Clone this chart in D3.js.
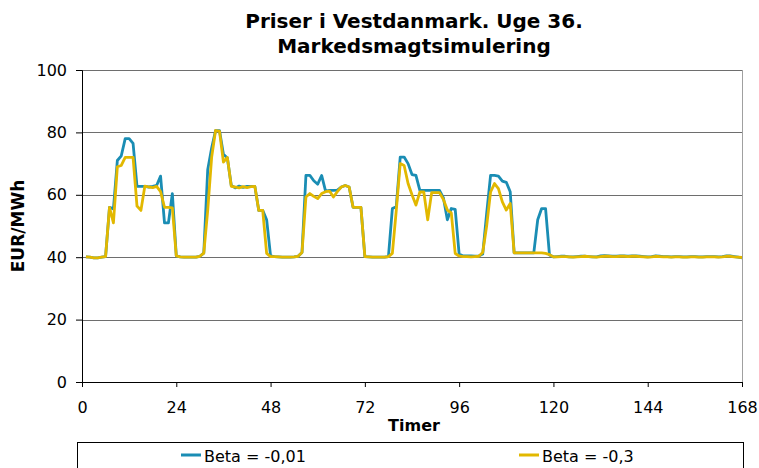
<!DOCTYPE html>
<html>
<head>
<meta charset="utf-8">
<script src="https://cdn.jsdelivr.net/npm/d3@7"></script>
<style>
	body { margin: 0; background: #fff; }
	text { font-family: 'DejaVu Sans', Verdana, sans-serif; fill: #000; }
</style>
</head>
<body>
<div class="canvas"></div>
<script>
// data - pris pr. time (EUR/MWh), time 1..168
const xTicks = [0, 24, 48, 72, 96, 120, 144, 168];
const yTicks = [0, 20, 40, 60, 80, 100];
const seriesNames = ['Beta = -0,01', 'Beta = -0,3'];
const seriesColours = ['#1a8db4', '#e2b800'];

const betaLow = [
	40.1, 40.0, 39.8, 39.8, 40.0, 40.2, 56, 55.5, 71, 72.5, 78, 78, 76.5, 62.7, 62.7, 62.7, 62.5, 62.7, 63, 66, 51, 51, 60.4, 40.4,
	40.1, 40.0, 40.0, 40.0, 40.0, 40.3, 41.3, 68, 75, 80.6, 80.6, 73, 71.8, 63, 62.2, 62.8, 62.4, 62.7, 62.7, 62.7, 55, 55, 52, 40.4,
	40.2, 40.1, 40.0, 40.0, 40.0, 40.1, 40.3, 41.5, 66.2, 66.2, 64.5, 63.4, 66.2, 61.2, 61.4, 61.4, 61.5, 62.5, 63, 62.5, 56, 56, 56, 40.2,
	40.1, 40.0, 40.0, 40.0, 40.0, 40.2, 55.6, 56.2, 72.1, 72.1, 70, 66.5, 66.2, 61.4, 61.4, 61.4, 61.4, 61.4, 61.4, 59, 52, 55.6, 55.3, 41,
	40.4, 40.4, 40.4, 40.3, 40.4, 41, 54, 66.2, 66.2, 66, 64.4, 64, 61, 41.4, 41.4, 41.4, 41.4, 41.4, 41.4, 52, 55.6, 55.6, 40.7, 40.1,
	40.2, 40.3, 40.3, 40.1, 40.1, 40.2, 40.3, 40.3, 40.2, 40.1, 40.1, 40.4, 40.5, 40.4, 40.3, 40.3, 40.4, 40.4, 40.3, 40.4, 40.4, 40.3, 40.2, 40.1,
	40.2, 40.4, 40.3, 40.2, 40.2, 40.1, 40.2, 40.2, 40.1, 40.1, 40.2, 40.2, 40.1, 40.1, 40.2, 40.2, 40.2, 40.1, 40.2, 40.4, 40.4, 40.2, 40.0, 39.8
];

const betaHigh = [
	40.1, 40.0, 39.8, 39.8, 40.0, 40.2, 56, 51, 69, 69.4, 72, 72, 72, 56.4, 55, 62.8, 62.5, 62.3, 62.7, 61, 56, 56, 55.8, 40.4,
	40.1, 40.0, 40.0, 40.0, 40.0, 40.3, 41.3, 55, 72, 80.6, 80.4, 70.5, 72, 62.7, 62.5, 62.2, 62.6, 62.3, 62.6, 62.7, 55, 55, 41.2, 40.2,
	40.2, 40.1, 40.0, 40.0, 40.0, 40.1, 40.3, 41.5, 59.3, 60.4, 59.5, 58.8, 60.4, 61, 61.2, 59.3, 61, 62.5, 63, 62.5, 56, 56, 56, 40.2,
	40.1, 40.0, 40.0, 40.0, 40.0, 40.2, 41.2, 55, 70, 69.4, 63.6, 60, 56.7, 60.9, 60.9, 52, 60.7, 60.7, 60.7, 58.5, 55.1, 54.2, 41.2, 40.4,
	40.2, 40.2, 40.1, 40.2, 40.3, 41.5, 50, 60.9, 63.6, 62, 57.7, 55.1, 57.2, 41.4, 41.4, 41.4, 41.4, 41.4, 41.4, 41.4, 41.4, 41.2, 40.8, 40.1,
	40.1, 40.2, 40.2, 40.1, 40.0, 40.1, 40.2, 40.3, 40.2, 40.1, 40.0, 40.2, 40.3, 40.3, 40.2, 40.2, 40.3, 40.3, 40.2, 40.3, 40.3, 40.2, 40.1, 40.0,
	40.1, 40.3, 40.2, 40.1, 40.1, 40.0, 40.1, 40.1, 40.0, 40.0, 40.1, 40.1, 40.0, 40.0, 40.1, 40.1, 40.1, 40.0, 40.1, 40.3, 40.3, 40.1, 40.0, 39.9
];

const width = 759;
const height = 468;

// svg
const svg = d3
	.select('.canvas')
	.append('svg')
	.attr('width', width)
	.attr('height', height);

// margine
const margin = { top: 70, right: 17, bottom: 86, left: 82 };
const diagramWidth = width - margin.left - margin.right;
const diagramHeight = height - margin.top - margin.bottom;

const diagram = svg
	.append('g')
	.attr('transform', `translate(${margin.left}, ${margin.top})`);

const x = d3.scaleLinear().domain([0, 168]).range([0, diagramWidth]);
const y = d3.scaleLinear().domain([0, 100]).range([diagramHeight, 0]);

// gridlines
diagram.append('g')
	.selectAll('line')
	.data(yTicks.slice(1))
	.enter()
	.append('line')
	.attr('x1', 0)
	.attr('x2', diagramWidth)
	.attr('y1', d => Math.round(y(d)) + 0.5)
	.attr('y2', d => Math.round(y(d)) + 0.5)
	.attr('stroke', '#6e6e6e')
	.attr('stroke-width', 1);

// desni rub
diagram.append('line')
	.attr('x1', diagramWidth + 0.5)
	.attr('x2', diagramWidth + 0.5)
	.attr('y1', y(100))
	.attr('y2', diagramHeight)
	.attr('stroke', '#a0a0a0');

// osi
const xAxis = d3.axisBottom(x).tickValues(xTicks).tickSize(5).tickPadding(15);
const yAxis = d3.axisLeft(y).tickValues(yTicks).tickSize(6).tickPadding(9);

const xAxisGroup = diagram
	.append('g')
	.attr('transform', `translate(0, ${diagramHeight})`)
	.call(xAxis);

const yAxisGroup = diagram.append('g').call(yAxis);

[xAxisGroup, yAxisGroup].forEach(g => {
	g.selectAll('path').attr('stroke', '#000');
	g.selectAll('line').attr('stroke', '#000');
	g.selectAll('text')
		.style('font-size', '16px')
		.style('font-family', "'DejaVu Sans', Verdana, sans-serif")
		.attr('fill', '#000');
});

// linije
const line = d3.line()
	.x((d, i) => x(i + 1))
	.y(d => y(d));

[betaLow, betaHigh].forEach((values, i) => {
	diagram.append('path')
		.datum(values)
		.attr('d', line)
		.attr('fill', 'none')
		.attr('stroke', seriesColours[i])
		.attr('stroke-width', 2.8)
		.attr('stroke-linejoin', 'round');
});

// naslov
svg.append('text')
	.attr('x', 414)
	.attr('y', 28)
	.attr('text-anchor', 'middle')
	.style('font-size', '20px')
	.style('font-weight', 'bold')
	.text('Priser i Vestdanmark. Uge 36.');

svg.append('text')
	.attr('x', 414)
	.attr('y', 53)
	.attr('text-anchor', 'middle')
	.style('font-size', '20px')
	.style('font-weight', 'bold')
	.text('Markedsmagtsimulering');

// naslovi osi
svg.append('text')
	.attr('x', 414)
	.attr('y', 431)
	.attr('text-anchor', 'middle')
	.style('font-size', '16px')
	.style('font-weight', 'bold')
	.text('Timer');

svg.append('text')
	.attr('transform', 'translate(24, 226) rotate(-90)')
	.attr('text-anchor', 'middle')
	.style('font-size', '17px')
	.style('font-weight', 'bold')
	.text('EUR/MWh');

// legenda
svg.append('rect')
	.attr('x', 77.5)
	.attr('y', 442.5)
	.attr('width', 666)
	.attr('height', 40)
	.attr('fill', '#fff')
	.attr('stroke', '#000');

const legendX = [181, 519];
seriesNames.forEach((name, i) => {
	svg.append('line')
		.attr('x1', legendX[i])
		.attr('x2', legendX[i] + 20)
		.attr('y1', 455)
		.attr('y2', 455)
		.attr('stroke', seriesColours[i])
		.attr('stroke-width', 3);
	svg.append('text')
		.attr('x', legendX[i] + 23)
		.attr('y', 462)
		.style('font-size', '16px')
		.text(name);
});
</script>
</body>
</html>
